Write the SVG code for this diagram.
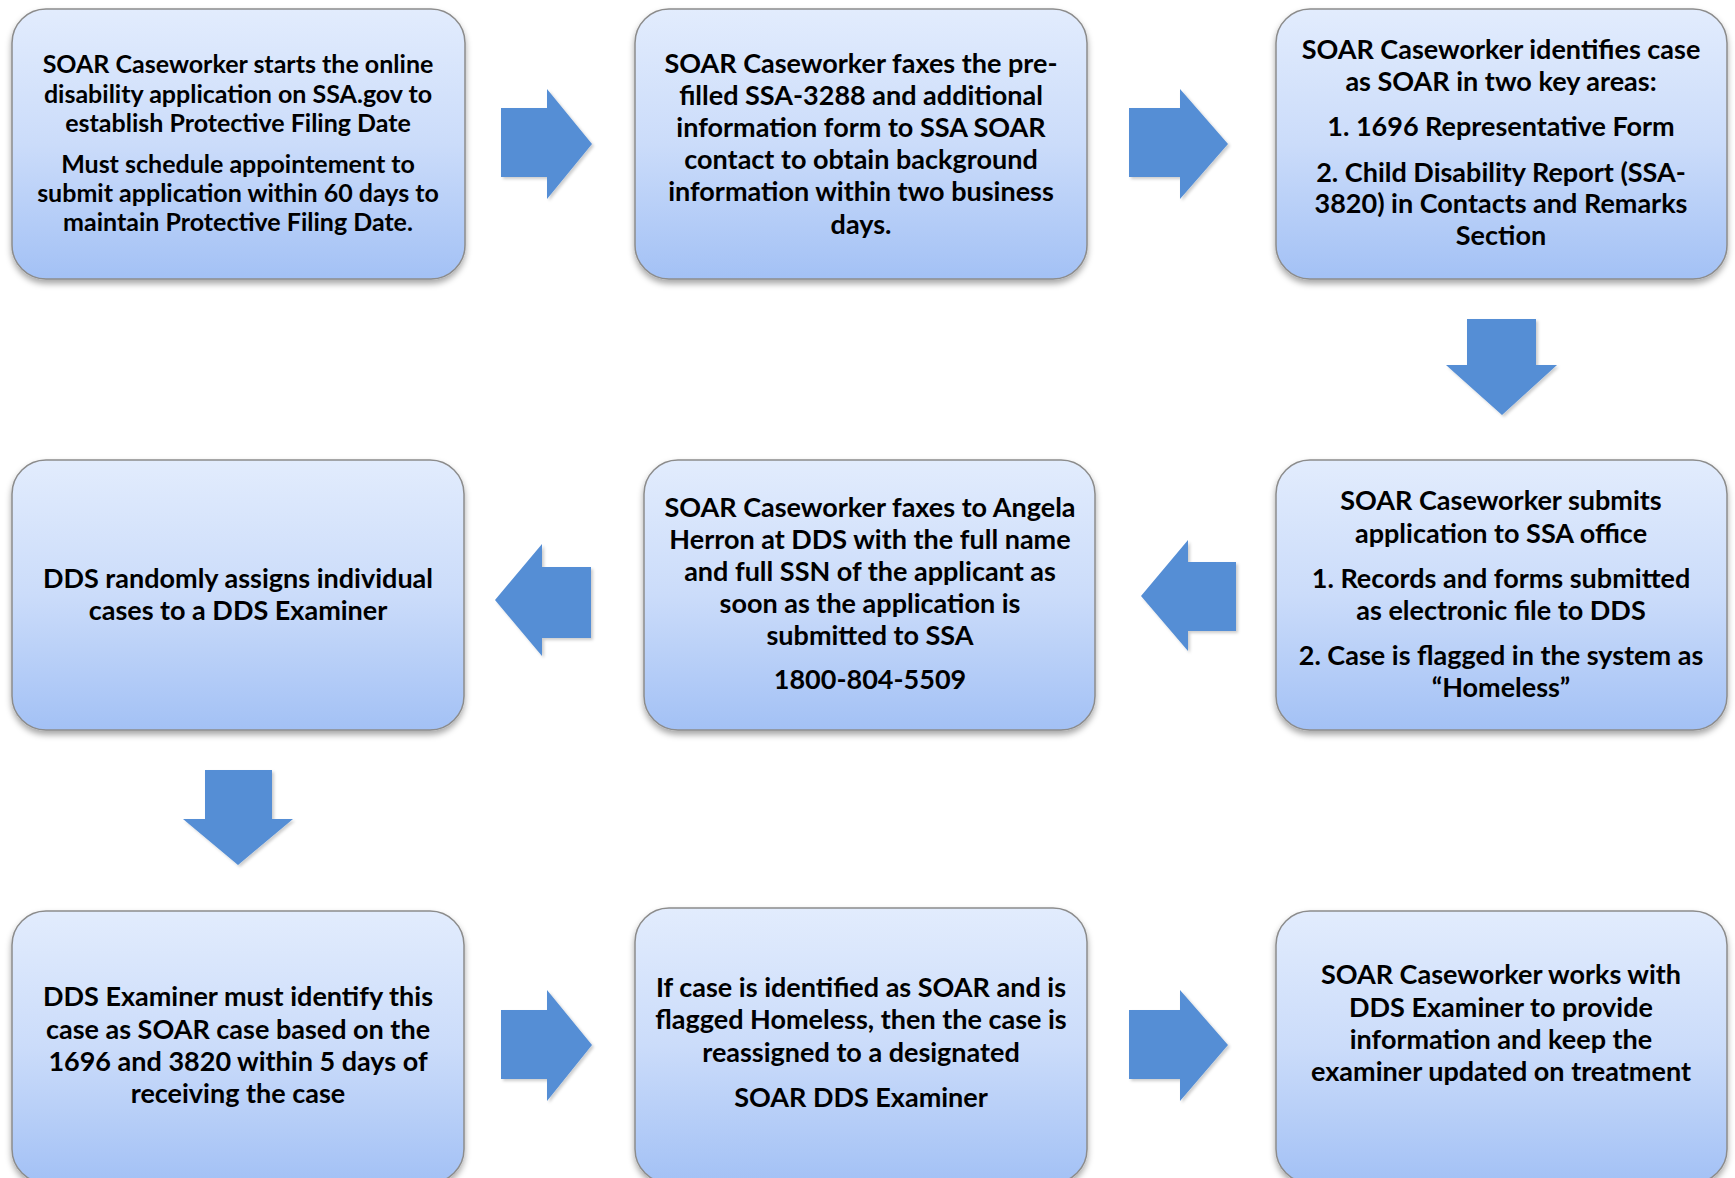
<svg xmlns="http://www.w3.org/2000/svg" width="1735" height="1178" viewBox="0 0 1735 1178">
<defs>
<linearGradient id="boxg" x1="0" y1="0" x2="0" y2="1">
<stop offset="0" stop-color="#E2ECFD"/>
<stop offset="0.5" stop-color="#CBDCFA"/>
<stop offset="1" stop-color="#A3C1F5"/>
</linearGradient>
<filter id="sh" x="-5%" y="-5%" width="110%" height="115%">
<feDropShadow dx="0" dy="4" stdDeviation="3" flood-color="#000" flood-opacity="0.35"/>
</filter>
<filter id="ash" x="-10%" y="-10%" width="125%" height="125%">
<feDropShadow dx="2" dy="2" stdDeviation="1.5" flood-color="#000" flood-opacity="0.2"/>
</filter>
</defs>
<style>
.box{fill:url(#boxg);stroke:#8c8c8c;stroke-width:1.5;filter:url(#sh)}
.arrow{fill:#558ED5;filter:url(#ash)}
text{font-family:Lato,"Open Sans","Liberation Sans",sans-serif;font-weight:bold;fill:#000;text-anchor:middle;font-size:27px}
.sm{font-size:25px}
</style>
<rect width="1735" height="1178" fill="#fff"/>

<g id="connectors">
<polygon class="arrow" points="501,108 547,108 547,89 592,144 547,199 547,177 501,177"/>
<polygon class="arrow" points="1129,108 1180,108 1180,89 1228,144 1180,199 1180,177 1129,177"/>
<polygon class="arrow" points="1467,319 1536,319 1536,365 1557,365 1502,415 1446,365 1467,365"/>
<polygon class="arrow" points="1236,562 1188,562 1188,540 1141,596 1188,651 1188,631 1236,631"/>
<polygon class="arrow" points="591,567 542,567 542,544 495,600 542,656 542,638 591,638"/>
<polygon class="arrow" points="205,770 272,770 272,819 293,819 238,865 183,819 205,819"/>
<polygon class="arrow" points="501,1010 547,1010 547,990 592,1045 547,1101 547,1079 501,1079"/>
<polygon class="arrow" points="1129,1010 1180,1010 1180,990 1228,1045 1180,1101 1180,1079 1129,1079"/>
</g>

<g id="node-a">
<rect class="box" x="12" y="9" width="453" height="270" rx="34"/>
<text class="sm" x="238" y="73">SOAR Caseworker  starts the online</text>
<text class="sm" x="238" y="103">disability application on SSA.gov to</text>
<text class="sm" x="238" y="132">establish Protective Filing Date</text>
<text class="sm" x="238" y="173">Must schedule appointement to</text>
<text class="sm" x="238" y="202">submit application within 60 days to</text>
<text class="sm" x="238" y="231">maintain Protective Filing Date.</text>
</g>

<g id="node-b">
<rect class="box" x="635" y="9" width="452" height="270" rx="34"/>
<text x="861" y="73">SOAR Caseworker faxes the pre-</text>
<text x="861" y="105">filled SSA-3288 and additional</text>
<text x="861" y="137">information form to SSA SOAR</text>
<text x="861" y="169">contact to obtain background</text>
<text x="861" y="201">information within two business</text>
<text x="861" y="234">days.</text>
</g>

<g id="node-c">
<rect class="box" x="1276" y="9" width="451" height="270" rx="34"/>
<text x="1501" y="59">SOAR Caseworker identifies case</text>
<text x="1501" y="91">as SOAR in two key areas:</text>
<text x="1501" y="136">1. 1696 Representative Form</text>
<text x="1501" y="182">2. Child Disability Report (SSA-</text>
<text x="1501" y="213">3820) in Contacts and Remarks</text>
<text x="1501" y="245">Section</text>
</g>

<g id="node-d">
<rect class="box" x="1276" y="460" width="451" height="270" rx="34"/>
<text x="1501" y="510">SOAR Caseworker submits</text>
<text x="1501" y="543">application to SSA office</text>
<text x="1501" y="588">1. Records and forms submitted</text>
<text x="1501" y="620">as electronic file to DDS</text>
<text x="1501" y="665">2. Case is flagged in the system as</text>
<text x="1501" y="697">“Homeless”</text>
</g>

<g id="node-e">
<rect class="box" x="644" y="460" width="451" height="270" rx="34"/>
<text x="870" y="517">SOAR Caseworker faxes to Angela</text>
<text x="870" y="549">Herron at DDS with the full name</text>
<text x="870" y="581">and full SSN of the applicant as</text>
<text x="870" y="613">soon as the application is</text>
<text x="870" y="645">submitted to SSA</text>
<text x="870" y="689">1800-804-5509</text>
</g>

<g id="node-f">
<rect class="box" x="12" y="460" width="452" height="270" rx="34"/>
<text x="238" y="588">DDS randomly assigns individual</text>
<text x="238" y="620">cases to a DDS Examiner</text>
</g>

<g id="node-g">
<rect class="box" x="12" y="911" width="452" height="272" rx="34"/>
<text x="238" y="1006">DDS Examiner must identify this</text>
<text x="238" y="1039">case as SOAR case based on the</text>
<text x="238" y="1071">1696 and 3820 within 5 days of</text>
<text x="238" y="1103">receiving the case</text>
</g>

<g id="node-h">
<rect class="box" x="635" y="908" width="452" height="275" rx="34"/>
<text x="861" y="997">If case is identified as SOAR and is</text>
<text x="861" y="1029">flagged Homeless, then the case is</text>
<text x="861" y="1062">reassigned to a designated</text>
<text x="861" y="1107">SOAR DDS Examiner</text>
</g>

<g id="node-i">
<rect class="box" x="1276" y="911" width="451" height="272" rx="34"/>
<text x="1501" y="984">SOAR Caseworker works with</text>
<text x="1501" y="1017">DDS Examiner to provide</text>
<text x="1501" y="1049">information and keep the</text>
<text x="1501" y="1081">examiner updated on treatment</text>
</g>
</svg>
